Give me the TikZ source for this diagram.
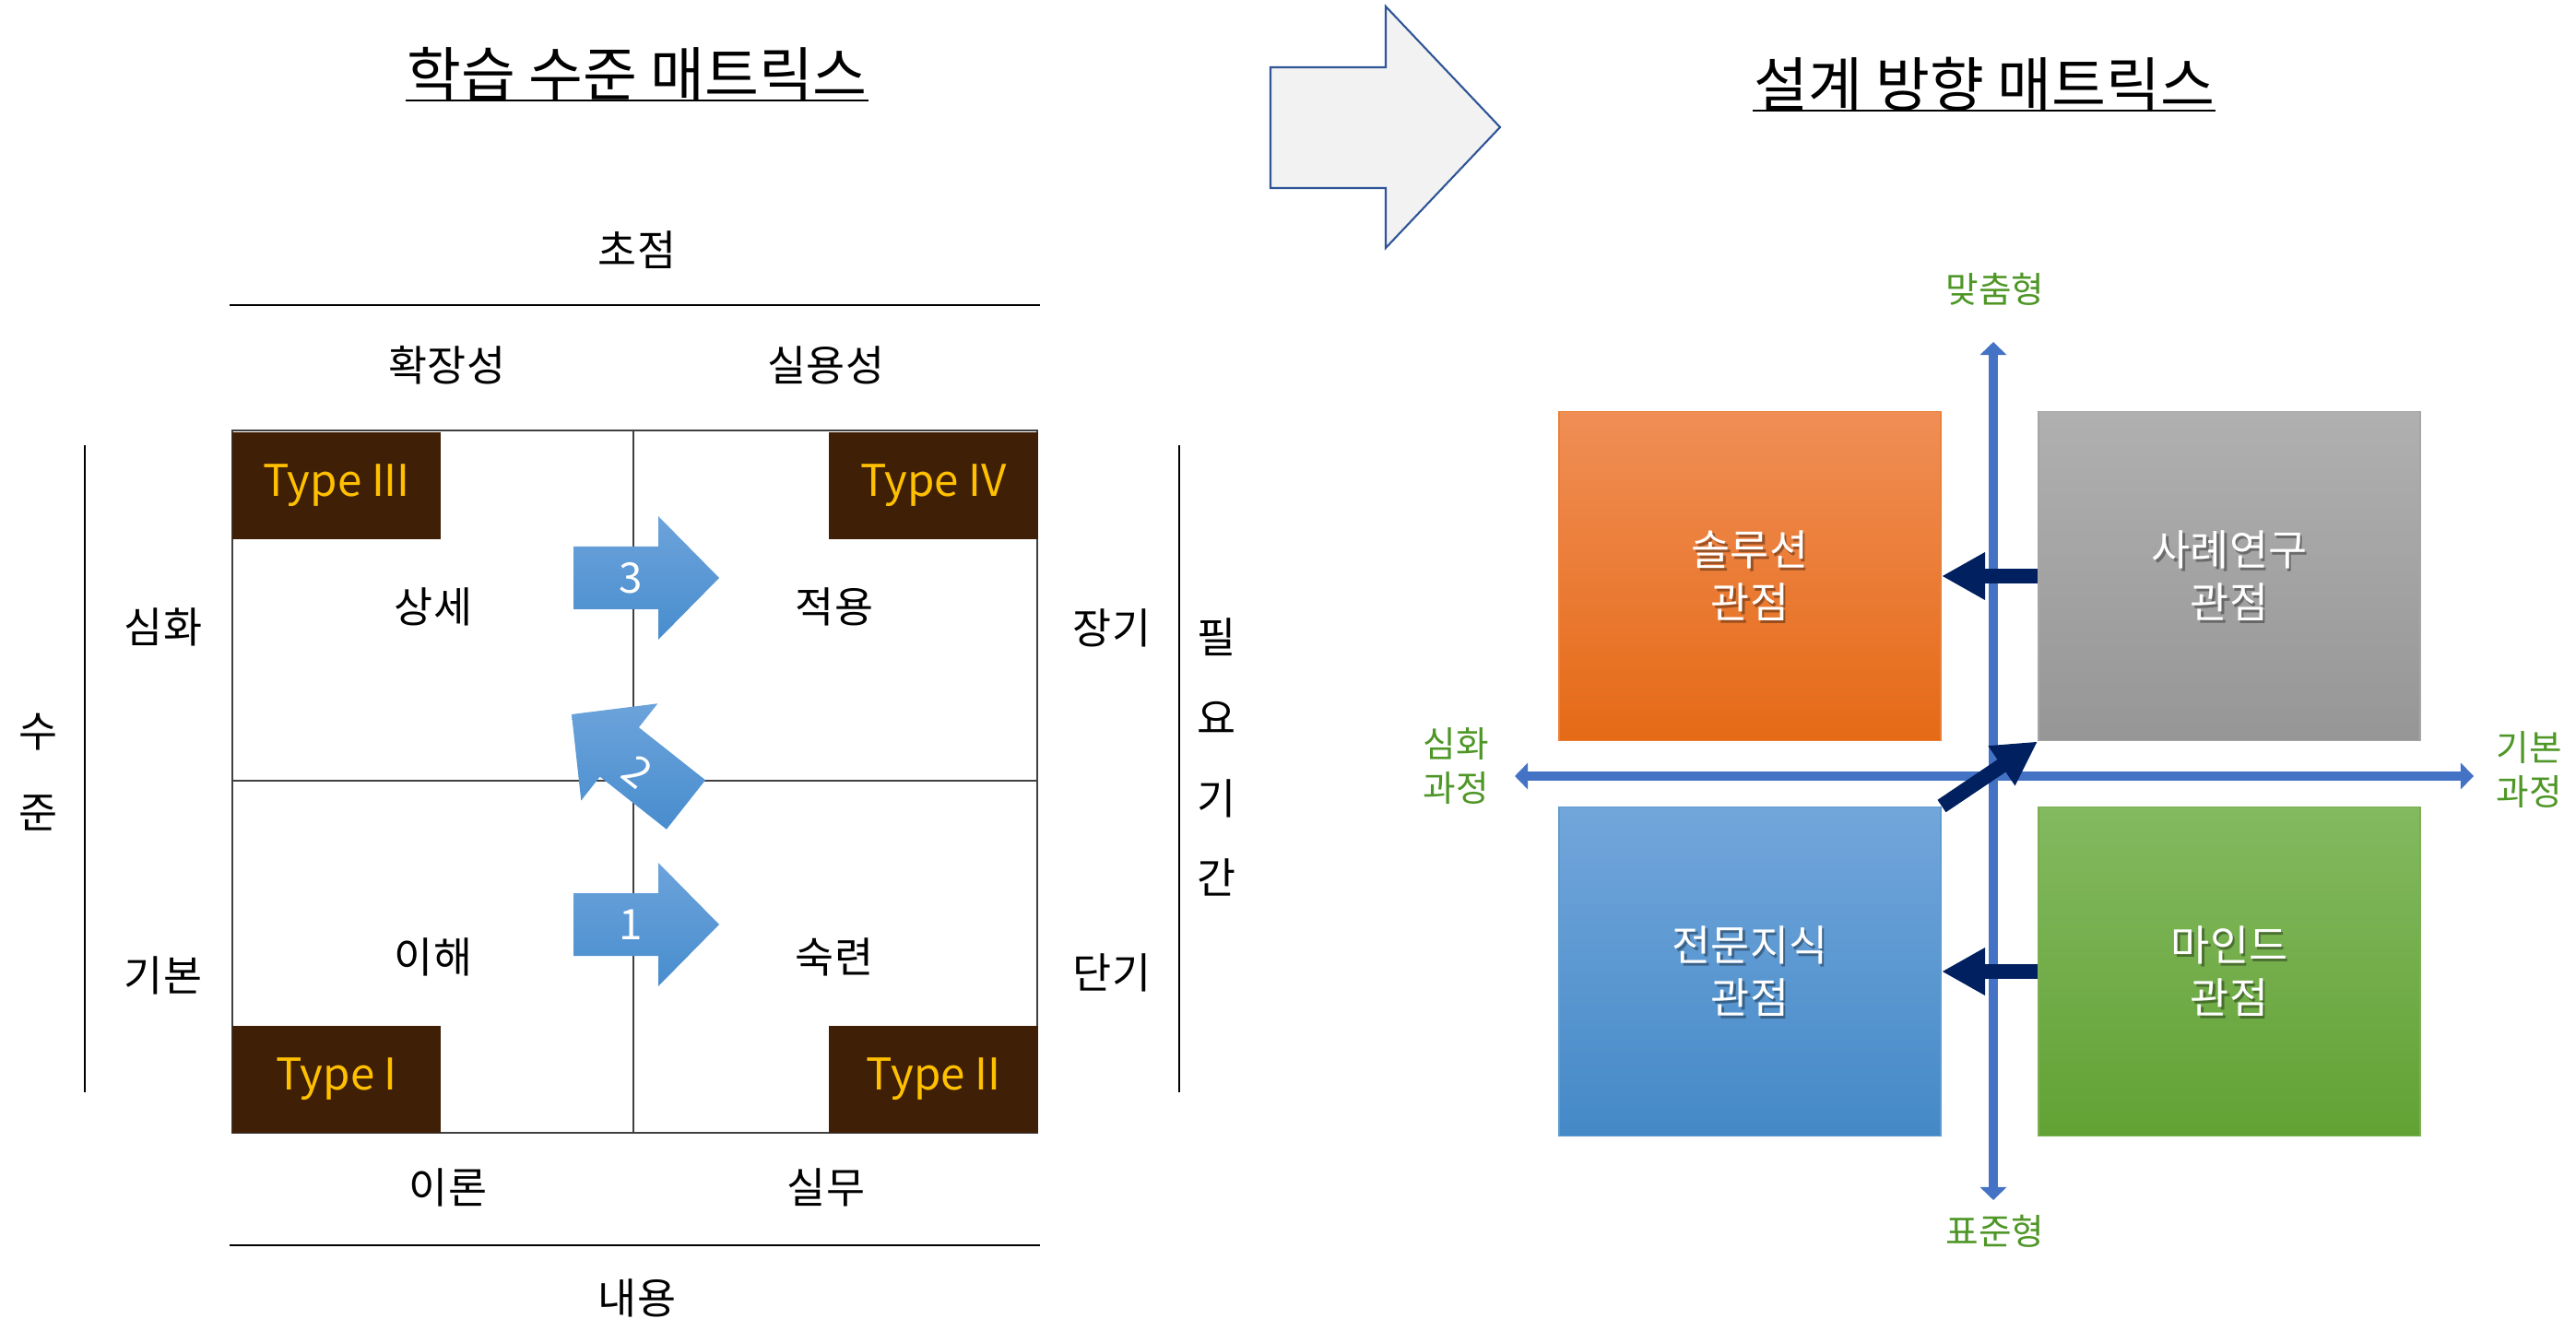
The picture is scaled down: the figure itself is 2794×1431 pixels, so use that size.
\documentclass[tikz,border=0pt]{standalone}
\usepackage{fontspec}
\setmainfont{Noto Sans CJK KR}
\usetikzlibrary{arrows.meta}
\definecolor{typebg}{RGB}{64,31,7}
\definecolor{typefg}{RGB}{255,192,0}
\definecolor{arrtop}{RGB}{108,163,219}
\definecolor{arrbot}{RGB}{72,141,206}
\definecolor{axisblue}{RGB}{68,114,196}
\definecolor{navy}{RGB}{0,32,96}
\definecolor{lblgreen}{RGB}{78,150,38}
\definecolor{otop}{RGB}{240,142,86}
\definecolor{obot}{RGB}{229,106,22}
\definecolor{gtop}{RGB}{176,176,176}
\definecolor{gbot}{RGB}{150,150,150}
\definecolor{btop}{RGB}{114,166,219}
\definecolor{bbot}{RGB}{68,137,199}
\definecolor{ntop}{RGB}{131,185,96}
\definecolor{nbot}{RGB}{98,162,52}
\definecolor{bigfill}{RGB}{242,242,242}
\definecolor{bigdraw}{RGB}{47,85,151}
\tikzset{
  txt/.style={font=\fontsize{13pt}{16pt}\selectfont, inner sep=0pt},
  titletxt/.style={font=\fontsize{18.2pt}{22pt}\selectfont, inner sep=0pt},
  typebox/.style={fill=typebg, draw=none, minimum width=2.26cm, minimum height=1.16cm, inner sep=0pt,
    text=typefg, font=\fontsize{13.5pt}{16pt}\selectfont},
  numtxt/.style={text=white, font=\fontsize{13pt}{16pt}\selectfont, inner sep=0pt},
  bluearrow/.style={top color=arrtop, bottom color=arrbot, draw=none},
  grn/.style={text=lblgreen, font=\fontsize{11pt}{13.5pt}\selectfont, align=center, inner sep=0pt},
  quad/.style={minimum width=4.14cm, minimum height=3.57cm, inner sep=0pt, line width=0.5pt},
  qtxt/.style={text=white, font=\fontsize{13pt}{16.2pt}\selectfont, align=center, inner sep=0pt},
  qshadow/.style={text=black, opacity=0.35, font=\fontsize{13pt}{16.2pt}\selectfont, align=center, inner sep=0pt},
  axis/.style={draw=axisblue, line width=3pt, {Triangle[length=4pt,width=8pt]}-{Triangle[length=4pt,width=8pt]}},
  navyarrow/.style={draw=navy, line width=4.6pt, -{Triangle[length=13.4pt,width=13.8pt]}},
  rule/.style={draw=black, line width=0.5pt},
  gridline/.style={draw=black!75, line width=0.5pt},
}
\begin{document}
\begin{tikzpicture}[x=0.01cm, y=-0.01cm]
\useasboundingbox (0,0) rectangle (2794,1431);

% ---------- left: titles ----------
\node[titletxt] (t1) at (691,80) {학습 수준 매트릭스};
\draw[line width=0.8pt] (t1.west |- 0,109) -- (t1.east |- 0,109);

\node[txt] (focus) at (691,271) {초점};
\draw[rule] (249,331) -- (1128,331);
\node[txt] (ext) at (485,396) {확장성};
\node[txt] (prac) at (896,396) {실용성};

% ---------- grid ----------
\draw[gridline] (252,467) rectangle (1125,1229);
\draw[gridline] (687,467) -- (687,1229);
\draw[gridline] (252,847) -- (1125,847);

\node[typebox] (ty3) at (365,527) {Type III};
\node[typebox] (ty4) at (1012.5,527) {Type IV};
\node[typebox] (ty1) at (365,1171) {Type I};
\node[typebox] (ty2) at (1012.5,1171) {Type II};

\node[txt] (q11) at (470,658) {상세};
\node[txt] (q12) at (905,658) {적용};
\node[txt] (q21) at (470,1038) {이해};
\node[txt] (q22) at (905,1038) {숙련};

% blue arrows
\shade[bluearrow] (622,593) -- (714,593) -- (714,560) -- (780,627) -- (714,694) -- (714,661) -- (622,661) -- cycle;
\node[numtxt] (n3) at (684,627) {3};
\shade[bluearrow] (622,969) -- (714,969) -- (714,936) -- (780,1003) -- (714,1070) -- (714,1037) -- (622,1037) -- cycle;
\node[numtxt] (n1) at (684,1003) {1};
\shade[bluearrow] (620,775) -- (713.3,763.3) -- (692.9,789.2) -- (765.1,846.3) -- (722.9,899.7) -- (650.7,842.6) -- (630.3,868.5) -- cycle;
\node[numtxt, rotate=-38] (n2) at (692,837) {2};

% side labels
\draw[rule] (92,483) -- (92,1185);
\node[txt] (su) at (42,794) {수};
\node[txt] (jun) at (42,882) {준};
\node[txt] (deep) at (177,680) {심화};
\node[txt] (basic) at (177,1058) {기본};

\draw[rule] (1279,483) -- (1279,1185);
\node[txt] (long) at (1206,681) {장기};
\node[txt] (short) at (1206,1055) {단기};
\node[txt] (p1) at (1320,691) {필};
\node[txt] (p2) at (1320,779) {요};
\node[txt] (p3) at (1320,866) {기};
\node[txt] (p4) at (1320,952) {간};

\node[txt] (theory) at (486,1288) {이론};
\node[txt] (work) at (896,1288) {실무};
\draw[rule] (249,1351) -- (1128,1351);
\node[txt] (content) at (691,1408) {내용};

% ---------- big arrow ----------
\draw[fill=bigfill, draw=bigdraw, line width=0.6pt]
  (1378,73) -- (1503,73) -- (1503,7) -- (1627,138) -- (1503,269) -- (1503,204) -- (1378,204) -- cycle;

% ---------- right ----------
\node[titletxt] (t2) at (2152,91) {설계 방향 매트릭스};
\draw[line width=0.8pt] (t2.west |- 0,120) -- (t2.east |- 0,120);

\coordinate (vt) at (2162,371);
\coordinate (vb) at (2162,1302);
\coordinate (hl) at (1643,842);
\coordinate (hr) at (2683,842);
\draw[axis] (vb) -- (vt);
\draw[axis] (hl) -- (hr);

\node[grn] (cust) at (2164,314) {맞춤형};
\node[grn] (std) at (2164,1336) {표준형};
\node[grn] (deepc) at (1579,831) {심화\\과정};
\node[grn] (basicc) at (2743,835) {기본\\과정};

\node[quad, top color=otop, bottom color=obot, draw=obot!85!white] (sol) at (1898,625) {};
\node[quad, top color=gtop, bottom color=gbot, draw=gbot!85!white] (case) at (2418,625) {};
\node[quad, top color=btop, bottom color=bbot, draw=bbot!85!white] (expert) at (1898,1054) {};
\node[quad, top color=ntop, bottom color=nbot, draw=nbot!85!white] (mind) at (2418,1054) {};

\foreach \n/\t in {sol/솔루션, case/사례연구, expert/전문지식, mind/마인드}{
  \node[qshadow] at ([shift={(2.5,2.5)}]\n.center) {\t\\관점};
  \node[qtxt] at (\n.center) {\t\\관점};
}

\draw[navyarrow] (case.west) -- (sol.east);
\draw[navyarrow] (mind.west) -- (expert.east);
\draw[navyarrow] (expert.north east) -- (case.south west);
\end{tikzpicture}
\end{document}
